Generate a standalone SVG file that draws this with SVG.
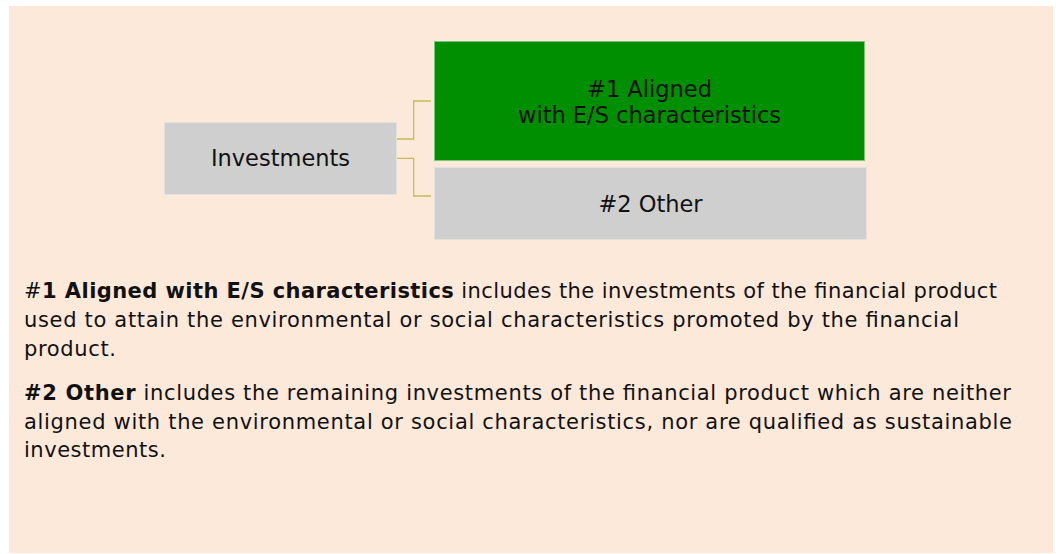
<svg xmlns="http://www.w3.org/2000/svg" width="1056" height="554" viewBox="0 0 1056 554">
<style>
.box{stroke-width:1}
.grey{fill:#cfcfcf;stroke:#e4e0dc}
.green{fill:#008f00;stroke:#7cc47c}
.lbl{font-family:"DejaVu Sans",sans-serif;font-size:22.5px;fill:#111;text-anchor:middle}
.para{font-family:"DejaVu Sans",sans-serif;font-size:21px;fill:#111}
.b{font-weight:bold}
.conn{fill:none;stroke:#c9b95a;stroke-width:1.3}
</style>
<rect x="9" y="6" width="1044" height="547" fill="#fde9d9"/>
<g id="connectors">
<path class="conn" d="M397,139 H413.7 V101 H431"/>
<path class="conn" d="M397,158.3 H413.7 V196 H431"/>
</g>
<g id="investments">
<rect class="box grey" x="164.5" y="122.5" width="232" height="72"/>
<text class="lbl" x="280.5" y="166">Investments</text>
</g>
<g id="aligned">
<rect class="box green" x="434.5" y="41.5" width="430" height="119"/>
<text class="lbl" x="649.5" y="96.7">#1 Aligned</text>
<text class="lbl" x="649.5" y="122.7">with E/S characteristics</text>
</g>
<g id="other">
<rect class="box grey" x="434.5" y="167.5" width="432" height="72"/>
<text class="lbl" x="650.5" y="211.7">#2 Other</text>
</g>
<g id="notes">
<text class="para" x="24" y="298" textLength="973" lengthAdjust="spacing">#<tspan class="b">1 Aligned with E/S characteristics</tspan> includes the investments of the financial product</text>
<text class="para" x="24" y="327" textLength="935" lengthAdjust="spacing">used to attain the environmental or social characteristics promoted by the financial</text>
<text class="para" x="24" y="356" textLength="92" lengthAdjust="spacing">product.</text>
<text class="para" x="24" y="400" textLength="987" lengthAdjust="spacing"><tspan class="b">#2 Other</tspan> includes the remaining investments of the financial product which are neither</text>
<text class="para" x="24" y="428.5" textLength="988" lengthAdjust="spacing">aligned with the environmental or social characteristics, nor are qualified as sustainable</text>
<text class="para" x="24" y="457" textLength="142" lengthAdjust="spacing">investments.</text>
</g>
</svg>
